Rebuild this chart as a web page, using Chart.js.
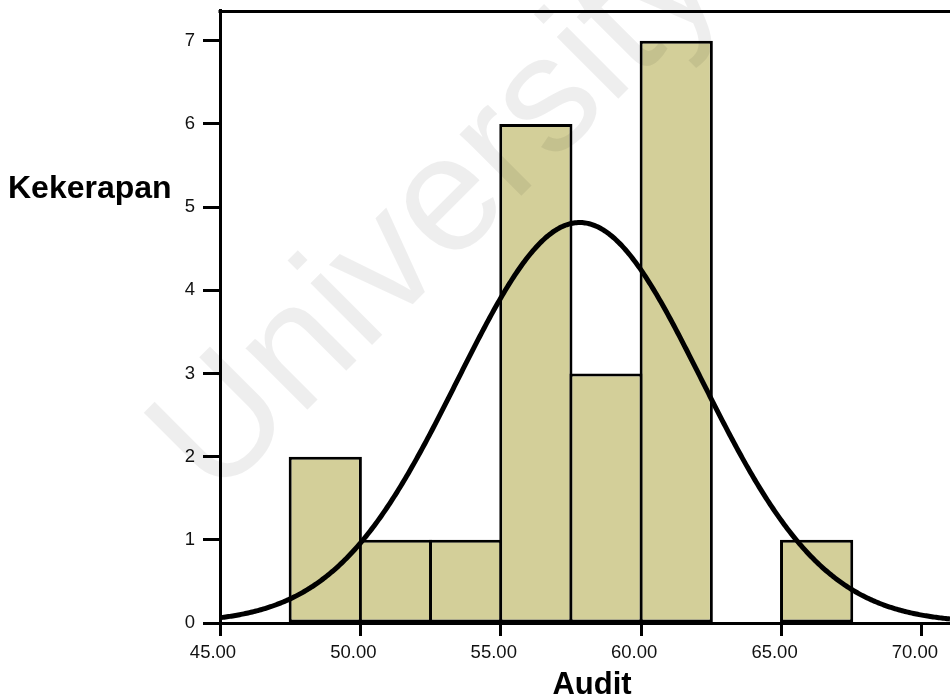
<!DOCTYPE html>
<html>
<head>
<meta charset="utf-8">
<title>Audit</title>
<script src="https://cdn.jsdelivr.net/npm/chart.js@4/dist/chart.umd.min.js"></script>
<style>
  html, body { margin: 0; padding: 0; background: #ffffff; }
  #wrap { width: 950px; height: 700px; position: relative; }
</style>
</head>
<body>
<div id="wrap"><canvas id="chart" width="950" height="700"></canvas></div>
<script>
// Histogram bins of the Audit score (width 2.5)
const binStarts = [47.5, 50.0, 52.5, 55.0, 57.5, 60.0, 62.5, 65.0];
const binWidth = 2.5;
const counts = [2, 1, 1, 6, 3, 7, 0, 1];

// Fitted normal curve parameters
const curveMean = 57.81;
const curveSd = 4.35;
const sampleSize = 21;

// Axis ranges and labels
const xMin = 45, xMax = 71.0, xStep = 5;
const yMin = 0, yMax = 7.37, yStep = 1;
const xTitle = 'Audit';
const yTitle = 'Kekerapan';
const watermarkText = 'University';

const FONT = '"Liberation Sans", Arial, Helvetica, sans-serif';

const barData = binStarts.map((s, i) => ({ x: s + binWidth / 2, y: counts[i] }));

// Expected frequency per bin under the fitted normal distribution
const curveData = [];
for (let k = 0; k <= 520; k++) {
  const x = xMin + k * 0.05;
  const z = (x - curveMean) / curveSd;
  const y = sampleSize * binWidth * Math.exp(-0.5 * z * z) / (curveSd * Math.sqrt(2 * Math.PI));
  curveData.push({ x, y });
}

const decorations = {
  id: 'decorations',
  beforeDatasetsDraw(chart) {
    const { ctx, chartArea } = chart;
    ctx.save();
    ctx.strokeStyle = '#000';
    ctx.lineWidth = 3;
    ctx.beginPath();
    ctx.moveTo(chartArea.left - 1.5, chartArea.top + 1.5);
    ctx.lineTo(chartArea.right + 2, chartArea.top + 1.5);
    ctx.stroke();
    ctx.restore();
  },
  afterDraw(chart) {
    const { ctx } = chart;
    ctx.save();
    ctx.fillStyle = '#000';
    ctx.textBaseline = 'alphabetic';
    ctx.textAlign = 'left';
    ctx.font = 'bold 32px ' + FONT;
    ctx.fillText(yTitle, 8, 198);
    ctx.textAlign = 'center';
    ctx.font = 'bold 31px ' + FONT;
    ctx.fillText(xTitle, 592, 694);

    // faint diagonal watermark
    ctx.translate(215, 502);
    ctx.rotate(-Math.PI / 4);
    ctx.font = '165px ' + FONT;
    ctx.textAlign = 'left';
    ctx.fillStyle = 'rgba(0,0,0,0.065)';
    ctx.fillText(watermarkText, 0, 0);
    ctx.restore();
  }
};

// keep the plot frame fixed; tick labels may overhang it
function noScalePadding(s) {
  s.paddingTop = 0;
  s.paddingBottom = 0;
  s.paddingLeft = 0;
  s.paddingRight = 0;
}

new Chart(document.getElementById('chart'), {
  type: 'bar',
  data: {
    datasets: [
      {
        type: 'line',
        data: curveData,
        borderColor: '#000',
        borderWidth: 5,
        pointRadius: 0,
        tension: 0,
        fill: false,
        order: 0
      },
      {
        type: 'bar',
        data: barData,
        backgroundColor: '#D3CF99',
        borderColor: '#000',
        borderWidth: 3,
        borderSkipped: false,
        barPercentage: 1.043,
        categoryPercentage: 1,
        order: 1
      }
    ]
  },
  options: {
    responsive: false,
    animation: false,
    events: [],
    layout: { padding: { left: 0, right: 0, top: 10, bottom: 0 } },
    plugins: { legend: { display: false }, tooltip: { enabled: false } },
    scales: {
      x: {
        type: 'linear',
        min: xMin,
        max: xMax,
        offset: false,
        grid: { display: true, offset: false, drawOnChartArea: false, drawTicks: true, tickLength: 13, tickWidth: 3, tickColor: '#000' },
        border: { display: true, color: '#000', width: 3 },
        ticks: {
          stepSize: xStep,
          includeBounds: false,
          maxRotation: 0,
          autoSkip: false,
          padding: 6,
          labelOffset: -7,
          color: '#111',
          font: { family: FONT, size: 18.5 },
          callback: (v) => Number(v).toFixed(2)
        },
        afterFit: (s) => { s.height = 77; noScalePadding(s); }
      },
      y: {
        type: 'linear',
        min: yMin,
        max: yMax,
        grid: { display: true, drawOnChartArea: false, drawTicks: true, tickLength: 17, tickWidth: 3, tickColor: '#000' },
        border: { display: true, color: '#000', width: 3 },
        ticks: {
          stepSize: yStep,
          includeBounds: false,
          padding: 8,
          color: '#111',
          font: { family: FONT, size: 18.5 },
          callback: (v) => String(v)
        },
        afterFit: (s) => { s.width = 220; noScalePadding(s); }
      }
    }
  },
  plugins: [decorations]
});
</script>
</body>
</html>
